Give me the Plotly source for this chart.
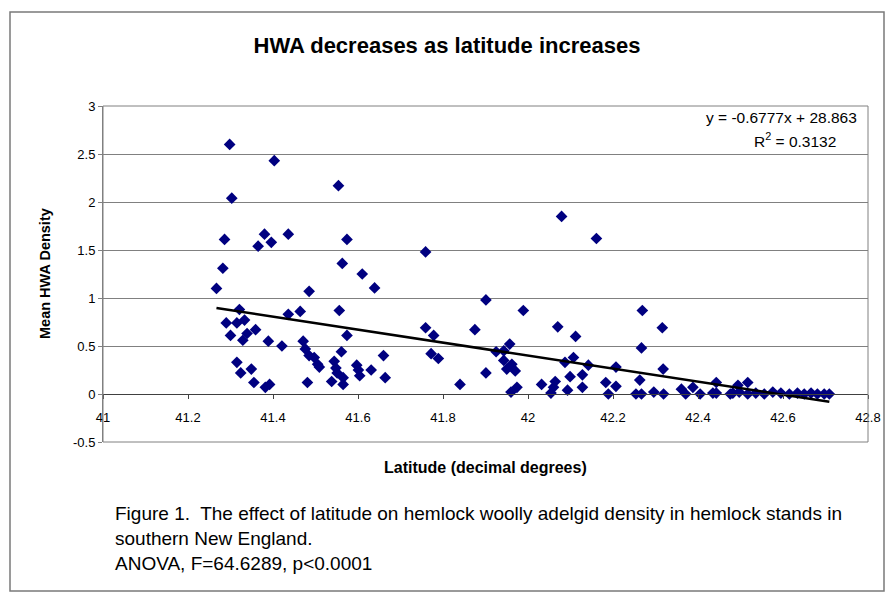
import plotly.graph_objects as go

# Stand latitude (decimal degrees) and mean HWA density per stand
latitude = [
    41.267, 41.282, 41.286, 41.298, 41.303, 41.403, 41.321, 41.290, 41.315, 41.333,
    41.300, 41.339, 41.329, 41.359, 41.389, 41.421, 41.315, 41.324, 41.349, 41.355,
    41.382, 41.392, 41.436, 41.464, 41.485, 41.471, 41.476, 41.485, 41.497, 41.505,
    41.509, 41.481, 41.380, 41.365, 41.396, 41.436, 41.554, 41.574, 41.563, 41.610,
    41.639, 41.556, 41.574, 41.561, 41.544, 41.548, 41.551, 41.538, 41.565, 41.565,
    41.597, 41.601, 41.604, 41.631, 41.660, 41.664, 41.759, 41.759, 41.778, 41.772,
    41.789, 41.840, 41.901, 41.989, 41.875, 42.070, 42.112, 41.957, 41.925, 41.943,
    41.943, 41.962, 41.950, 41.970, 41.901, 41.960, 41.974, 42.087, 42.107, 42.142,
    42.099, 42.128, 42.032, 42.064, 42.060, 42.054, 42.093, 42.128, 42.079, 42.161,
    42.269, 42.316, 42.267, 42.318, 42.207, 42.183, 42.207, 42.189, 42.263, 42.254,
    42.267, 42.296, 42.319, 42.361, 42.371, 42.388, 42.405, 42.435, 42.443, 42.443,
    42.476, 42.494, 42.517, 42.482, 42.497, 42.517, 42.536, 42.556, 42.576, 42.595,
    42.615, 42.634, 42.650, 42.666, 42.681, 42.697, 42.709,
]
hwa_density = [
    1.10, 1.31, 1.61, 2.60, 2.04, 2.43, 0.88, 0.74, 0.74, 0.77,
    0.61, 0.63, 0.56, 0.67, 0.55, 0.50, 0.33, 0.22, 0.26, 0.12,
    0.07, 0.10, 0.83, 0.86, 1.07, 0.55, 0.47, 0.40, 0.38, 0.31,
    0.28, 0.12, 1.665, 1.54, 1.58, 1.665, 2.17, 1.61, 1.36, 1.25,
    1.105, 0.87, 0.61, 0.44, 0.34, 0.27, 0.22, 0.13, 0.17, 0.10,
    0.30, 0.25, 0.19, 0.25, 0.40, 0.17, 1.48, 0.69, 0.61, 0.42,
    0.37, 0.10, 0.98, 0.87, 0.67, 0.70, 0.60, 0.52, 0.44, 0.45,
    0.35, 0.31, 0.26, 0.24, 0.22, 0.02, 0.07, 0.33, 0.38, 0.30,
    0.18, 0.20, 0.10, 0.13, 0.07, 0.01, 0.04, 0.07, 1.85, 1.62,
    0.87, 0.69, 0.48, 0.26, 0.28, 0.12, 0.08, 0.00, 0.145, 0.00,
    0.00, 0.02, 0.00, 0.05, 0.00, 0.07, 0.00, 0.01, 0.01, 0.12,
    0.00, 0.09, 0.12, 0.01, 0.02, 0.00, 0.01, 0.00, 0.02, 0.01,
    0.00, 0.01, 0.00, 0.01, 0.00, 0.00, 0.00,
]

# Linear trend reported for the fit
trend_slope = -0.6777
trend_intercept = 28.863
r_squared = 0.3132

x_tick_values = [41.0, 41.2, 41.4, 41.6, 41.8, 42.0, 42.2, 42.4, 42.6, 42.8]
x_tick_labels = ["41", "41.2", "41.4", "41.6", "41.8", "42", "42.2", "42.4", "42.6", "42.8"]
y_tick_values = [-0.5, 0, 0.5, 1, 1.5, 2, 2.5, 3]
y_tick_labels = ["-0.5", "0", "0.5", "1", "1.5", "2", "2.5", "3"]

FONT = "Arial, Liberation Sans, sans-serif"
GRID = "#808080"

trend_x = [min(latitude), max(latitude)]
trend_y = [trend_slope * v + trend_intercept for v in trend_x]

fig = go.Figure()
fig.add_trace(go.Scatter(
    x=latitude, y=hwa_density, mode="markers",
    marker=dict(symbol="diamond", size=9, color="#000080", line=dict(width=0)),
    showlegend=False, hoverinfo="x+y",
))
fig.add_trace(go.Scatter(
    x=trend_x, y=trend_y, mode="lines",
    line=dict(color="black", width=2.5),
    showlegend=False, hoverinfo="skip",
))

W, H = 888, 596
L, R, T, B = 103, 20, 106, 154
pw, ph = W - L - R, H - T - B


def px(xp):
    return (xp - L) / pw


def py(yp):
    return (H - B - yp) / ph


y_min, y_max = -0.5, 3.0

fig.update_layout(
    width=W, height=H,
    margin=dict(l=L, r=R, t=T, b=B, autoexpand=False),
    paper_bgcolor="white", plot_bgcolor="white",
    font=dict(family=FONT, color="black"),
    title=dict(
        text="<b>HWA decreases as latitude increases</b>",
        x=447 / W, xanchor="center", y=1 - 45 / H, yanchor="middle",
        xref="container", yref="container",
        font=dict(family=FONT, size=22, color="black"),
    ),
    xaxis=dict(
        range=[41, 42.8], tickvals=x_tick_values, ticktext=x_tick_labels,
        showgrid=False, zeroline=False, showline=True, linecolor="#404040", linewidth=1,
        ticks="outside", ticklen=4, tickcolor="#404040", ticklabelstandoff=7,
        anchor="free", position=(0 - y_min) / (y_max - y_min),
        tickfont=dict(family=FONT, size=13, color="black"),
    ),
    yaxis=dict(
        range=[y_min, y_max], tickvals=y_tick_values, ticktext=y_tick_labels,
        showgrid=True, gridcolor=GRID, gridwidth=1, zeroline=False,
        showline=True, linecolor=GRID, linewidth=1,
        ticks="outside", ticklen=4, tickcolor=GRID,
        tickfont=dict(family=FONT, size=13, color="black"),
    ),
)

shapes = [
    # plot area frame
    dict(type="rect", xref="x domain", yref="y domain", x0=0, x1=1, y0=0, y1=1,
         line=dict(color=GRID, width=1), layer="above"),
    # chart area frame
    dict(type="rect", xref="paper", yref="paper",
         x0=px(10), x1=px(884), y0=py(591), y1=py(12),
         line=dict(color="#7a7a7a", width=1.5), layer="below"),
]
fig.update_layout(shapes=shapes)

annotations = [
    dict(text="<b>Mean HWA Density</b>", x=px(45), y=py(274), xref="paper", yref="paper",
         textangle=-90, showarrow=False, xanchor="center", yanchor="middle",
         font=dict(family=FONT, size=14.5, color="black")),
    dict(text="<b>Latitude (decimal degrees)</b>", x=0.5, y=py(467), xref="paper", yref="paper",
         showarrow=False, xanchor="center", yanchor="middle",
         font=dict(family=FONT, size=16, color="black")),
    dict(text=f"y = {trend_slope}x + {trend_intercept}", x=px(859), y=py(117),
         xref="paper", yref="paper", showarrow=False, xanchor="right", yanchor="middle",
         font=dict(family=FONT, size=15.5, color="black")),
    dict(text=f"R<sup>2</sup> = {r_squared}", x=px(795), y=py(140),
         xref="paper", yref="paper", showarrow=False, xanchor="center", yanchor="middle",
         font=dict(family=FONT, size=15.5, color="black")),
    dict(text="Figure 1.  The effect of latitude on hemlock woolly adelgid density in hemlock stands in",
         x=px(113), y=py(513), xref="paper", yref="paper", showarrow=False,
         xanchor="left", yanchor="middle", font=dict(family=FONT, size=19, color="black")),
    dict(text="southern New England.",
         x=px(113), y=py(538), xref="paper", yref="paper", showarrow=False,
         xanchor="left", yanchor="middle", font=dict(family=FONT, size=19, color="black")),
    dict(text="ANOVA, F=64.6289, p<0.0001",
         x=px(113), y=py(563), xref="paper", yref="paper", showarrow=False,
         xanchor="left", yanchor="middle", font=dict(family=FONT, size=19, color="black")),
]
fig.update_layout(annotations=annotations)

fig.write_html("out.html")
